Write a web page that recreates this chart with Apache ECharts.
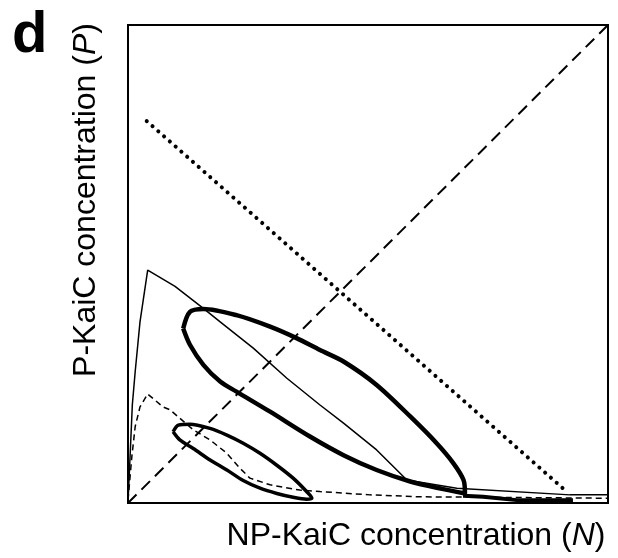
<!DOCTYPE html>
<html>
<head>
<meta charset="utf-8">
<script src="https://cdn.jsdelivr.net/npm/echarts@6/dist/echarts.min.js"></script>
<style>
  html, body { margin: 0; padding: 0; background: #fff; }
  #chart { width: 618px; height: 558px; }
</style>
</head>
<body>
<div id="chart"></div>
<script>
// NP-KaiC (N) vs P-KaiC (P), both scaled 0..1
var diagonal = [[0, 0], [1, 1]];
var dottedLine = [[0.039, 0.799], [0.917, 0.021]];

var thinSolid = [
  [0, 0.002], [0.004, 0.090], [0.009, 0.205], [0.015, 0.275], [0.025, 0.379],
  [0.041, 0.487], [0.098, 0.453], [0.157, 0.407], [0.192, 0.379], [0.261, 0.324],
  [0.331, 0.261], [0.400, 0.205], [0.449, 0.167], [0.518, 0.111], [0.581, 0.048],
  [0.685, 0.031], [0.921, 0.017], [1.0, 0.017]
];

var thinDashed = [
  [0, 0.006], [0.008, 0.097], [0.015, 0.160], [0.025, 0.201], [0.041, 0.228],
  [0.073, 0.201], [0.0875, 0.195], [0.136, 0.153], [0.171, 0.132], [0.206, 0.104],
  [0.233, 0.073], [0.254, 0.052], [0.296, 0.038], [0.358, 0.027], [0.400, 0.024],
  [0.504, 0.017], [0.608, 0.013], [1.0, 0.010]
];

var bigLoop = [
  [0.115, 0.365], [0.129, 0.400], [0.157, 0.406], [0.226, 0.393], [0.296, 0.369],
  [0.351, 0.345], [0.400, 0.320], [0.449, 0.296], [0.518, 0.247], [0.588, 0.181],
  [0.643, 0.125], [0.678, 0.083], [0.699, 0.048], [0.702, 0.020], [0.657, 0.029],
  [0.588, 0.045], [0.518, 0.069], [0.449, 0.100], [0.379, 0.139], [0.296, 0.191],
  [0.226, 0.233], [0.192, 0.254], [0.157, 0.289], [0.129, 0.331], [0.115, 0.365]
];

var smallLoop = [
  [0.094, 0.149], [0.105, 0.163], [0.129, 0.165], [0.171, 0.156], [0.206, 0.142],
  [0.240, 0.125], [0.275, 0.104], [0.310, 0.079], [0.344, 0.052], [0.372, 0.024],
  [0.383, 0.010], [0.372, 0.008], [0.344, 0.012], [0.310, 0.020], [0.275, 0.031],
  [0.240, 0.047], [0.206, 0.069], [0.171, 0.090], [0.136, 0.114], [0.108, 0.132],
  [0.094, 0.149]
];

var floorTrace = [[0.698, 0.015], [0.740, 0.013], [0.810, 0.006], [0.927, 0.006]];

var chart = echarts.init(document.getElementById('chart'));

function plain(data, width, type, extra) {
  var s = {
    type: 'line',
    data: data,
    showSymbol: false,
    symbol: 'none',
    silent: true,
    lineStyle: { color: '#000', width: width, type: type || 'solid' }
  };
  if (extra) Object.assign(s, extra);
  return s;
}

var labelRich = {
  a: { font: '32px "Liberation Sans", Arial', fill: '#000' },
  i: { font: 'italic 32px "Liberation Sans", Arial', fill: '#000' }
};

var option = {
  animation: false,
  backgroundColor: '#fff',
  grid: {
    left: 128, top: 25, width: 480, height: 478,
    show: true, borderColor: '#000', borderWidth: 2, backgroundColor: 'transparent'
  },
  xAxis: {
    type: 'value', min: 0, max: 1,
    axisLine: { show: false }, axisTick: { show: false },
    axisLabel: { show: false }, splitLine: { show: false }
  },
  yAxis: {
    type: 'value', min: 0, max: 1,
    axisLine: { show: false }, axisTick: { show: false },
    axisLabel: { show: false }, splitLine: { show: false }
  },
  graphic: [
    {
      type: 'text', left: 12, top: 7,
      style: { text: 'd', font: 'bold 58px "Liberation Sans", Arial', fill: '#000' }
    },
    {
      type: 'text', x: 416, y: 536,
      style: {
        text: '{a|NP-KaiC concentration (}{i|N}{a|)}',
        align: 'center', verticalAlign: 'middle', rich: labelRich
      }
    },
    {
      type: 'text', x: 86, y: 200, rotation: Math.PI / 2,
      style: {
        text: '{a|P-KaiC concentration (}{i|P}{a|)}',
        align: 'center', verticalAlign: 'middle', rich: labelRich
      }
    }
  ],
  series: [
    plain(diagonal, 2, [12, 7]),
    plain(dottedLine, 4, 'solid', { lineStyle: { color: '#000', width: 4, type: [0.1, 7.6], cap: 'round' } }),
    plain(thinSolid, 1.5),
    plain(thinDashed, 1.5, [6, 4]),
    plain(bigLoop, 4.5, 'solid', { smooth: 0.3 }),
    plain(smallLoop, 3.5, 'solid', { smooth: 0.3 }),
    plain(floorTrace, 4)
  ]
};

chart.setOption(option);
</script>
</body>
</html>
